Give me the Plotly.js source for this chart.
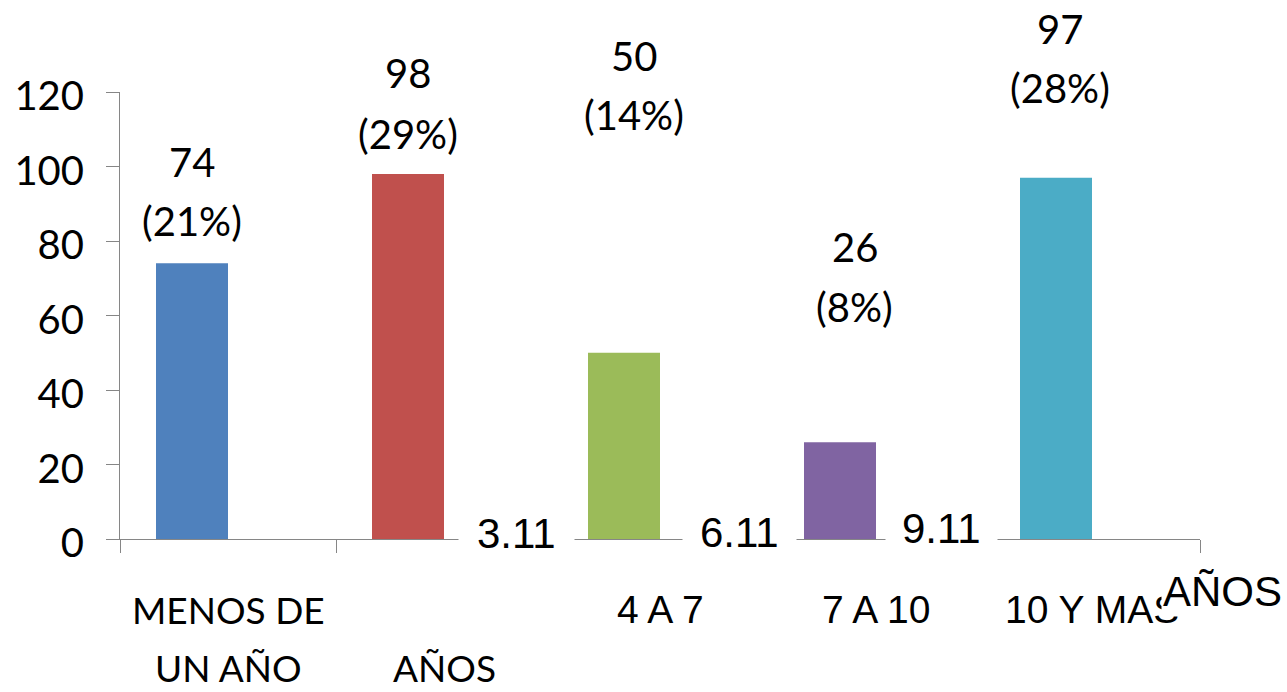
<!DOCTYPE html>
<html>
<head>
<meta charset="utf-8">
<script src="https://cdn.plot.ly/plotly-3.0.1.min.js"></script>
<style>
  html, body { margin: 0; padding: 0; background: #ffffff; }
  #chart { width: 1287px; height: 692px; }
</style>
</head>
<body>
<div id="chart"></div>
<script>
// Antigüedad: number of people per seniority bracket
const counts = [74, 98, 50, 26, 97];
const shares = [21, 29, 14, 8, 28];
const barColors = ['#4F81BD', '#C0504D', '#9BBB59', '#8064A2', '#4BACC6'];

// Category captions under the axis
const captionsTop = ['MENOS DE', '', '4 A 7', '7 A 10', '10 Y MAS'];
const captionsBottom = ['UN AÑO', 'AÑOS', '', '', ''];
const tailCaption = 'AÑOS';
const boxedMarks = ['3.11', '6.11', '9.11'];

// Label placement (layout only): [x shift in px, y of count line, y of share line] in axis units
const labelPlace = [
  [0, 101.2, 85.4],
  [0, 125.1, 108.7],
  [10, 129.7, 113.8],
  [14.5, 78.4, 62.3],
  [3.5, 136.9, 121.1]
];
// [x in category units, y in axis units, padding]
const boxedPlace = [[1.335, 1.4, 18], [2.37, 1.7, 17], [3.305, 2.7, 16]];

const cats = counts.map((_, i) => i);
const BAR_W = 1 / 3;
const X_MIN = -0.5, X_MAX = 4.5, Y_MAX = 120;

// annotations use paper coordinates so they can sit outside the plotting area
const px = x => (x - X_MIN) / (X_MAX - X_MIN);
const py = y => y / Y_MAX;

const calibri = 'Lato, "Open Sans", sans-serif';
const arial = '"Liberation Sans", Arial, sans-serif';

const trace = {
  type: 'bar',
  x: cats,
  y: counts,
  offset: -BAR_W,
  width: BAR_W,
  marker: { color: barColors, line: { width: 0 } },
  hoverinfo: 'x+y'
};

const annotations = [];
const note = (o) => annotations.push(Object.assign({
  xref: 'paper', yref: 'paper', xanchor: 'center', yanchor: 'middle', showarrow: false
}, o));

counts.forEach((v, i) => {
  const p = labelPlace[i];
  const xc = px(i - BAR_W / 2);
  note({ x: xc, y: py(p[1]), xshift: p[0], text: String(v),
    font: { family: calibri, size: 40, color: '#000000' } });
  note({ x: xc, y: py(p[2]), xshift: p[0], text: '(' + shares[i] + '%)',
    font: { family: calibri, size: 40, color: '#000000' } });
});

// Captions below each category
const capFont = [calibri, calibri, arial, arial, arial];
const capSize = [37, 37, 39, 39, 39];
captionsTop.forEach((t, i) => {
  if (t) note({ x: px(i), y: py(-19.0), text: t,
    font: { family: capFont[i], size: capSize[i], color: '#000000' } });
});
captionsBottom.forEach((t, i) => {
  if (t) note({ x: px(i), y: py(-34.4), text: t,
    font: { family: capFont[i], size: capSize[i], color: '#000000' } });
});

// Boxed marks sitting on the axis line
boxedMarks.forEach((t, i) => {
  const b = boxedPlace[i];
  note({ x: px(b[0]), y: py(b[1]), text: t, bgcolor: '#ffffff', borderpad: b[2],
    font: { family: arial, size: 42, color: '#000000' } });
});

// Trailing caption at the right end
note({ x: px(4.602), y: py(-14.2), text: tailCaption, bgcolor: '#ffffff', borderpad: 1,
  font: { family: arial, size: 42, color: '#000000' } });

const layout = {
  width: 1287,
  height: 692,
  margin: { l: 120, r: 87, t: 92, b: 153, pad: 0 },
  paper_bgcolor: '#ffffff',
  plot_bgcolor: '#ffffff',
  showlegend: false,
  xaxis: {
    type: 'linear',
    range: [X_MIN, X_MAX],
    tickvals: [-0.5, 0.5, 1.5, 2.5, 3.5, 4.5],
    showticklabels: false,
    ticks: 'outside', ticklen: 13, tickwidth: 1, tickcolor: '#868686',
    showline: true, linecolor: '#868686', linewidth: 1,
    showgrid: false, zeroline: false, fixedrange: true
  },
  yaxis: {
    range: [0, Y_MAX],
    tickmode: 'linear', tick0: 0, dtick: 20,
    ticks: 'outside', ticklen: 13, tickwidth: 1, tickcolor: '#868686',
    showline: true, linecolor: '#868686', linewidth: 1,
    showgrid: false, zeroline: false,
    tickfont: { family: calibri, size: 40, color: '#000000' },
    ticklabelstandoff: 14,
    ticklabelshift: 4,
    fixedrange: true
  },
  annotations: annotations
};

Plotly.newPlot('chart', [trace], layout, { displayModeBar: false, staticPlot: true });
</script>
</body>
</html>
